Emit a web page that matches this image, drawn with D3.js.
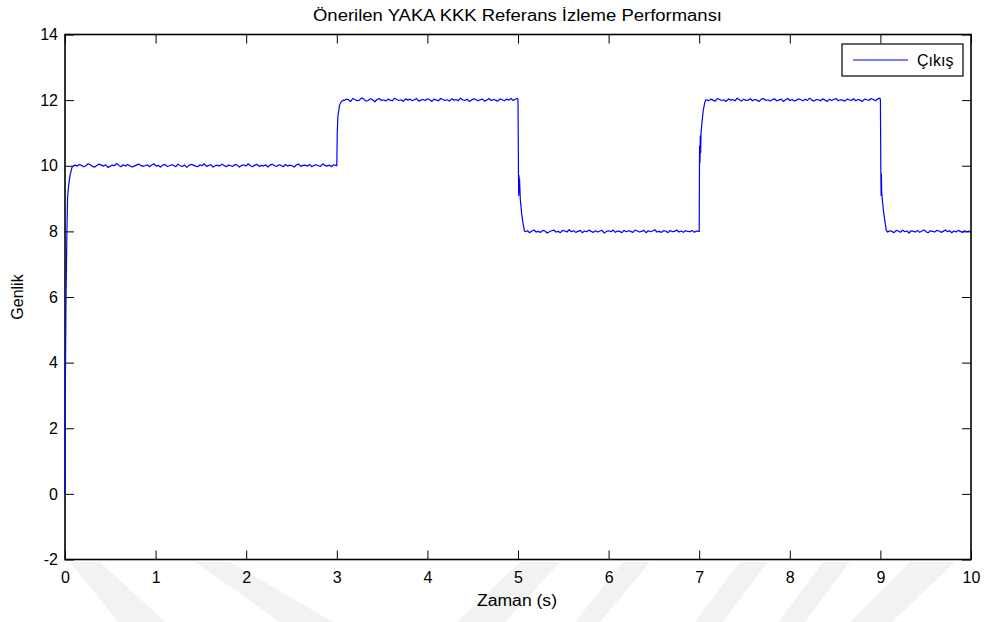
<!DOCTYPE html>
<html>
<head>
<meta charset="utf-8">
<script src="https://cdn.jsdelivr.net/npm/d3@7"></script>
<style>
  html, body { margin: 0; padding: 0; background: #fff; }
  svg { display: block; }
  text { font-family: "Liberation Sans", Arial, Helvetica, sans-serif; fill: #000; }
</style>
</head>
<body>
<svg id="chart" width="986" height="622"></svg>
<script>
// ---------- DATA ----------
const titleText = "Önerilen YAKA KKK Referans İzleme Performansı";
const xLabel = "Zaman (s)";
const yLabel = "Genlik";
const legendLabel = "Çıkış";
const xTicks = [0, 1, 2, 3, 4, 5, 6, 7, 8, 9, 10];
const yTicks = [-2, 0, 2, 4, 6, 8, 10, 12, 14];
const xDomain = [0, 10];
const yDomain = [-2, 14];

// transitions (time s, output)
const rise0T = [0, 0.003, 0.011, 0.020, 0.028, 0.040, 0.055, 0.077, 0.100];
const rise0Y = [0, 2.9, 5.9, 7.8, 9.0, 9.4, 9.7, 9.95, 10.01];
const step3T = [3.0, 3.005, 3.012, 3.030, 3.050, 3.070];
const step3Y = [10.0, 11.0, 11.5, 11.85, 11.95, 12.0];
const step5T = [5.0, 5.005, 5.008, 5.011, 5.014, 5.017, 5.025, 5.040, 5.055, 5.070];
const step5Y = [12.0, 9.8, 9.1, 9.7, 9.2, 9.6, 9.0, 8.55, 8.25, 8.02];
const step7T = [7.0, 7.004, 7.008, 7.012, 7.016, 7.020, 7.030, 7.045, 7.060, 7.070];
const step7Y = [8.0, 10.6, 10.1, 10.9, 10.4, 11.0, 11.3, 11.7, 11.9, 12.0];
const step9T = [9.0, 9.005, 9.008, 9.011, 9.014, 9.020, 9.035, 9.050, 9.065];
const step9Y = [12.0, 9.8, 9.1, 9.75, 9.2, 9.0, 8.6, 8.3, 8.03];

// plateaus: [start, end] and sampled noisy output
const plateau1Span = [0.11, 2.99];
const plateau1 = [10.02, 9.99, 10.04, 10.01, 9.97, 10.00, 10.06, 10.03, 9.98, 9.96, 10.01, 10.05, 10.02, 9.99, 10.03, 9.95, 9.98, 10.02, 10.00, 10.07, 10.01, 9.97, 10.03, 9.99, 10.04, 10.00, 9.96, 9.99, 10.02, 10.05, 10.01, 9.98, 10.00, 10.03, 9.97, 10.02, 10.06, 9.99, 10.01, 9.96, 10.02, 10.04, 9.98, 10.00, 10.03, 10.01, 9.97, 10.05, 10.00, 9.98, 10.02, 9.95, 10.01, 10.04, 10.02, 9.99, 9.97, 10.03, 10.00, 10.06, 9.98, 10.01, 10.03, 9.96, 10.00, 10.02, 9.99, 10.05, 10.01, 9.97, 10.02, 10.00, 9.98, 10.04, 10.02, 9.96, 10.01, 10.03, 9.99, 10.06, 10.00, 9.97, 10.02, 10.04, 9.98, 10.01, 9.99, 10.03, 9.96, 10.02, 10.05, 10.00, 9.98, 10.03, 10.01, 9.97, 10.04, 9.99, 10.02, 10.00, 9.96, 10.03, 10.05, 9.98, 10.01, 10.02, 9.99, 10.04, 9.97, 10.01, 10.03, 10.00, 9.98, 10.06, 10.01, 9.99, 10.02, 9.97, 10.03, 10.01];
const plateau2Span = [3.08, 4.995];
const plateau2 = [11.99, 12.03, 12.01, 11.96, 12.05, 12.02, 11.98, 12.00, 12.07, 12.03, 11.97, 11.99, 12.04, 12.01, 11.95, 12.02, 12.05, 11.99, 12.01, 11.97, 12.03, 12.00, 11.98, 12.06, 12.02, 11.99, 12.01, 11.96, 12.04, 12.00, 12.03, 11.98, 12.01, 12.05, 11.97, 12.00, 12.02, 11.99, 12.04, 12.01, 11.96, 12.03, 12.00, 11.98, 12.05, 12.02, 11.99, 12.01, 11.97, 12.04, 12.00, 12.02, 11.98, 12.06, 12.01, 11.99, 12.03, 11.96, 12.00, 12.04, 12.02, 11.98, 12.01, 12.03, 11.97, 12.00, 12.05, 11.99, 12.02, 12.00, 11.97, 12.04, 12.01, 11.98, 12.03, 12.00, 12.05, 11.99, 12.03, 12.05];
const plateau3Span = [5.08, 6.995];
const plateau3 = [7.99, 8.02, 7.96, 8.01, 8.04, 7.98, 8.00, 7.97, 8.03, 8.01, 7.95, 7.99, 8.02, 8.04, 7.98, 8.00, 7.96, 8.03, 8.01, 7.98, 8.05, 7.99, 8.02, 7.97, 8.00, 8.03, 7.96, 8.01, 7.99, 8.04, 8.00, 7.97, 8.02, 7.98, 8.01, 8.03, 7.95, 8.00, 8.02, 7.99, 8.04, 7.97, 8.01, 8.00, 7.96, 8.03, 7.99, 8.02, 8.00, 7.97, 8.04, 8.01, 7.98, 8.00, 8.03, 7.96, 8.02, 7.99, 8.01, 8.05, 7.98, 8.00, 7.97, 8.02, 8.01, 7.96, 8.03, 7.99, 8.00, 8.04, 7.98, 8.01, 7.97, 8.02, 8.00, 7.99, 8.03, 7.97, 8.01, 8.00];
const plateau4Span = [7.08, 8.995];
const plateau4 = [12.01, 11.98, 12.03, 12.00, 11.97, 12.05, 12.02, 11.99, 12.01, 11.96, 12.04, 12.00, 12.02, 11.98, 12.06, 12.01, 11.97, 12.03, 11.99, 12.00, 12.04, 11.98, 12.02, 12.00, 11.96, 12.03, 12.05, 11.99, 12.01, 11.97, 12.02, 12.04, 11.98, 12.00, 12.03, 11.96, 12.01, 12.05, 11.99, 12.02, 11.97, 12.00, 12.04, 12.01, 11.98, 12.03, 11.99, 12.06, 12.00, 11.97, 12.02, 12.01, 11.98, 12.04, 12.00, 11.96, 12.03, 11.99, 12.02, 12.05, 11.98, 12.01, 12.00, 11.97, 12.03, 12.01, 11.99, 12.04, 11.98, 12.02, 12.00, 11.96, 12.03, 12.01, 11.99, 12.05, 12.02, 11.98, 12.04, 12.06];
const plateau5Span = [9.08, 10.0];
const plateau5 = [7.98, 8.02, 8.00, 7.96, 8.03, 8.01, 7.97, 8.04, 7.99, 8.01, 7.95, 8.02, 8.00, 7.98, 8.03, 7.97, 8.01, 8.04, 7.99, 7.96, 8.02, 8.00, 7.98, 8.03, 8.01, 7.97, 8.00, 8.04, 7.99, 8.02, 7.96, 8.01, 7.98, 8.03, 8.00, 7.97, 8.02, 7.99, 8.01, 7.99];

// ---------- BUILD SERIES ----------
function pairs(ts, ys) { return ts.map((t, i) => [t, ys[i]]); }
function plateau(span, vals) {
  const idx = d3.scaleLinear().domain([0, vals.length - 1]).range(span);
  return vals.map((v, i) => [idx(i), v]);
}
const series = [].concat(
  pairs(rise0T, rise0Y), plateau(plateau1Span, plateau1),
  pairs(step3T, step3Y), plateau(plateau2Span, plateau2),
  pairs(step5T, step5Y), plateau(plateau3Span, plateau3),
  pairs(step7T, step7Y), plateau(plateau4Span, plateau4),
  pairs(step9T, step9Y), plateau(plateau5Span, plateau5)
);

// ---------- LAYOUT ----------
const svg = d3.select("#chart");
const L = 65, R = 971, T = 34.5, B = 559.5;
const x = d3.scaleLinear().domain(xDomain).range([L, R]);
const y = d3.scaleLinear().domain(yDomain).range([B, T]);

// faint watermark stripes below axes
const wm = svg.append("g").attr("fill", "#f2f2f2");
const stripes = [
  [[70,562],[100,562],[165,622],[118,622]],
  [[195,562],[230,562],[333,622],[280,622]],
  [[520,562],[560,562],[505,622],[457,622]],
  [[623,562],[650,562],[600,622],[575,622]],
  [[740,562],[768,562],[723,622],[695,622]],
  [[823,562],[850,562],[805,622],[778,622]],
  [[910,562],[955,562],[892,622],[850,622]]
];
stripes.forEach(p => wm.append("polygon").attr("points", p.map(d => d.join(",")).join(" ")));

// plot background
svg.append("rect").attr("x", L).attr("y", T).attr("width", R - L).attr("height", B - T).attr("fill", "#fff");

// axes (MATLAB style: ticks inside, box)
const fs = 16;
const fmt = d => String(d);
const axB = svg.append("g").attr("transform", `translate(0,${B})`)
  .call(d3.axisBottom(x).tickValues(xTicks).tickSize(-9).tickPadding(12).tickFormat(fmt));
const axT = svg.append("g").attr("transform", `translate(0,${T})`)
  .call(d3.axisTop(x).tickValues(xTicks).tickSize(-9).tickFormat(""));
const axL = svg.append("g").attr("transform", `translate(${L},0)`)
  .call(d3.axisLeft(y).tickValues(yTicks).tickSize(-9).tickPadding(7).tickFormat(fmt));
const axR = svg.append("g").attr("transform", `translate(${R},0)`)
  .call(d3.axisRight(y).tickValues(yTicks).tickSize(-9).tickFormat(""));
[axB, axT, axL, axR].forEach(a => {
  a.select(".domain").remove();
  a.selectAll(".tick line").attr("stroke", "#000").attr("stroke-width", 1);
  a.selectAll(".tick text").attr("font-size", fs).attr("font-family", "Liberation Sans, Arial, sans-serif").attr("fill", "#000");
});
axB.selectAll(".tick text").attr("dy", "0.71em");
svg.append("rect").attr("x", L).attr("y", T).attr("width", R - L).attr("height", B - T)
  .attr("fill", "none").attr("stroke", "#000").attr("stroke-width", 1.6);

// data line (drawn over the box, like the reference)
svg.append("path")
  .datum(series)
  .attr("fill", "none")
  .attr("stroke", "#0000ff")
  .attr("stroke-width", 1.2)
  .attr("stroke-linejoin", "round")
  .attr("d", d3.line().x(d => x(d[0])).y(d => y(d[1])));

// title and labels
svg.append("text").attr("x", 517.5).attr("y", 21).attr("text-anchor", "middle")
  .attr("font-size", 16).attr("textLength", 409).attr("lengthAdjust", "spacingAndGlyphs").text(titleText);
svg.append("text").attr("x", 517).attr("y", 606).attr("text-anchor", "middle")
  .attr("font-size", fs).attr("textLength", 80).attr("lengthAdjust", "spacingAndGlyphs").text(xLabel);
svg.append("text").attr("transform", `translate(23,297) rotate(-90)`).attr("text-anchor", "middle")
  .attr("font-size", fs).text(yLabel);

// legend
const lg = svg.append("g");
lg.append("rect").attr("x", 842).attr("y", 44).attr("width", 121).attr("height", 32)
  .attr("fill", "#fff").attr("stroke", "#000").attr("stroke-width", 1.2);
lg.append("line").attr("x1", 853).attr("x2", 908).attr("y1", 60).attr("y2", 60)
  .attr("stroke", "#0000ff").attr("stroke-width", 1.1);
lg.append("text").attr("x", 917).attr("y", 66).attr("font-size", fs).text(legendLabel);
</script>
</body>
</html>
